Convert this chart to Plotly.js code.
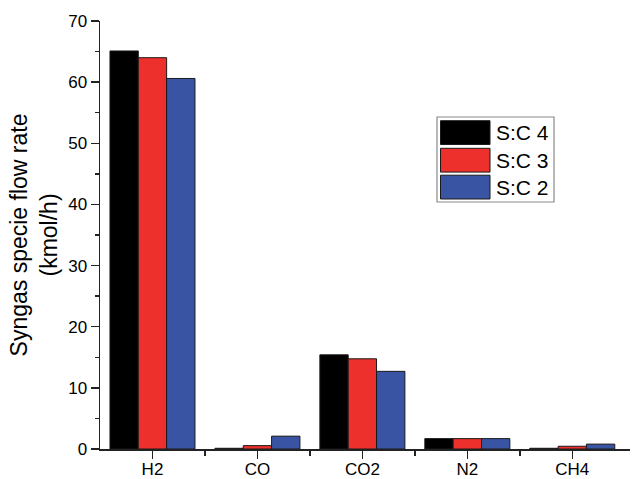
<!DOCTYPE html>
<html>
<head>
<meta charset="utf-8">
<script src="https://cdn.plot.ly/plotly-3.0.1.min.js"></script>
<style>html,body{margin:0;padding:0;background:#fff;}#chart{width:632px;height:479px;}</style>
</head>
<body>
<div id="chart"></div>
<script>
var categories = ["H2", "CO", "CO2", "N2", "CH4"];
var seriesNames = ["S:C 4", "S:C 3", "S:C 2"];
var sc4 = [65.1, 0.12, 15.4, 1.7, 0.12];
var sc3 = [64.0, 0.55, 14.75, 1.7, 0.45];
var sc2 = [60.6, 2.1, 12.7, 1.7, 0.8];
var yTicks = [0, 10, 20, 30, 40, 50, 60, 70];

var colors = ["#000000", "#ee302c", "#3a54a4"];
var seriesValues = [sc4, sc3, sc2];
var xIdx = categories.map(function (c, i) { return i; });

var traces = seriesValues.map(function (vals, k) {
  return {
    type: "bar",
    name: seriesNames[k],
    x: xIdx,
    y: vals,
    marker: { color: colors[k], line: { color: "#1a1a1a", width: 1 } },
    showlegend: false
  };
});

// plot-area pixel geometry for the hand-drawn legend
var L = 100, T = 21, W = 530, H = 428;
function px(x) { return (x - L) / W; }
function py(y) { return (T + H - y) / H; }

var shapes = [{
  type: "rect", xref: "paper", yref: "paper",
  x0: px(437), x1: px(554), y0: py(202), y1: py(117),
  line: { color: "#8a8a8a", width: 1.2 }, fillcolor: "#ffffff", layer: "above"
}];
var annotations = [];
var rowTop = [120.7, 148.3, 175.2];
var rowH = 23.8;
seriesNames.forEach(function (n, k) {
  shapes.push({
    type: "rect", xref: "paper", yref: "paper",
    x0: px(440.5), x1: px(490), y0: py(rowTop[k] + rowH), y1: py(rowTop[k]),
    line: { color: "#1a1a1a", width: 1 }, fillcolor: colors[k], layer: "above"
  });
  annotations.push({
    xref: "paper", yref: "paper", x: px(494), y: py(rowTop[k] + rowH / 2),
    xanchor: "left", yanchor: "middle", showarrow: false, text: n,
    font: { family: "Liberation Sans, Arial, sans-serif", size: 21, color: "#000" }
  });
});

var layout = {
  width: 632, height: 479,
  margin: { l: L, r: 632 - L - W, t: T, b: 479 - T - H, pad: 0 },
  paper_bgcolor: "#fff", plot_bgcolor: "#fff",
  font: { family: "Liberation Sans, Arial, sans-serif", color: "#000", size: 17 },
  barmode: "group", bargap: 0.19, bargroupgap: 0,
  xaxis: {
    range: [-0.5, 4.55], tickmode: "array", tickvals: xIdx, ticktext: categories,
    showline: true, linecolor: "#222", linewidth: 1.5, showgrid: false, zeroline: false,
    ticks: "outside", ticklen: 8, tickwidth: 1.5, tickcolor: "#222",
    tickfont: { size: 17 }, ticklabelstandoff: -4,
    minor: { tickmode: "array", tickvals: [0.5, 1.5, 2.5, 3.5], ticks: "outside", ticklen: 5, tickwidth: 1.5, tickcolor: "#222", showgrid: false }
  },
  yaxis: {
    range: [0, 70], tickmode: "array", tickvals: yTicks,
    showline: true, linecolor: "#222", linewidth: 1.5, showgrid: false, zeroline: false,
    ticks: "outside", ticklen: 8, tickwidth: 1.5, tickcolor: "#222",
    tickfont: { size: 17 },
    minor: { dtick: 5, ticks: "outside", ticklen: 4, tickwidth: 1.5, tickcolor: "#222", showgrid: false },
    title: { text: "Syngas specie flow rate<br>(kmol/h)", font: { size: 23 }, standoff: 4 }
  },
  shapes: shapes,
  annotations: annotations
};

Plotly.newPlot("chart", traces, layout, { displayModeBar: false, staticPlot: true });
</script>
</body>
</html>
